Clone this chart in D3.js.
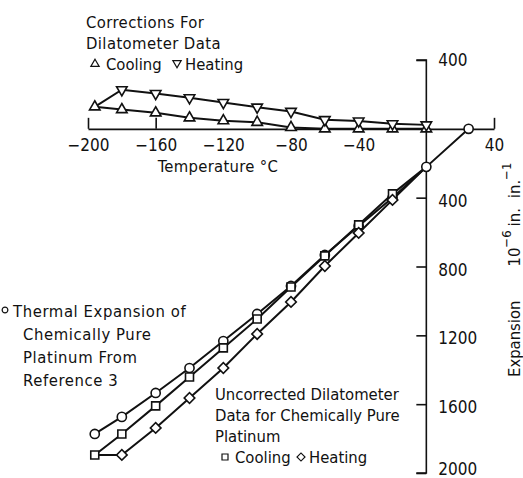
<!DOCTYPE html>
<html>
<head>
<meta charset="utf-8">
<script src="https://cdn.jsdelivr.net/npm/d3@7"></script>
<style>
  body { margin: 0; background: #fff; }
  svg text { font-family: "DejaVu Sans Condensed", "DejaVu Sans", sans-serif; font-size: 16.5px; fill: #111; }
  svg .tick text { font-size: 17px; }
</style>
</head>
<body>
<svg id="chart" width="523" height="478"></svg>
<script>
// temperatures, deg C (first point is liquid nitrogen)
const temps = [-196, -180, -160, -140, -120, -100, -80, -60, -40, -20, 0];
const refTemps = [-196, -180, -160, -140, -120, -100, -80, -60, -40, -20, 0, 25];

// corrections for dilatometer data, 10^-6 in/in (plotted upward)
const corrCooling = [128, 112, 93, 64, 47, 38, 8, 0, 0, 0, 0];
const corrHeating = [128, 227, 205, 180, 153, 126, 101, 53, 45, 29, 23];

// expansion, 10^-6 in/in (plotted downward)
const refExpansion = [1773, 1674, 1535, 1390, 1233, 1076, 913, 733, 564, 401, 221, 0];
const uncorrCooling = [1895, 1773, 1610, 1442, 1273, 1105, 919, 738, 558, 378, 221];
const uncorrHeating = [1895, 1895, 1738, 1564, 1390, 1192, 1006, 797, 605, 413, 221];

const xTicks = [-200, -160, 40];
const xLabels = [-200, -160, -120, -80, -40, 40];
const yTicks = [-400, 400, 800, 1200, 1600, 2000];

const svg = d3.select("#chart");
const x = d3.scaleLinear().domain([-200, 40]).range([88, 494]);
const y = d3.scaleLinear().domain([-400, 2000]).range([60, 473]);
const x0 = x(0), y0 = y(0);

const fmt = d => (d < 0 ? "\u2212" : "") + Math.abs(d);

// horizontal axis, ticks pointing up
svg.append("g")
    .attr("transform", `translate(0,${y0})`)
    .call(d3.axisTop(x).tickValues(xTicks).tickSize(11).tickSizeOuter(0).tickFormat(""))
    .call(g => g.selectAll("path,line").attr("stroke", "#111").attr("stroke-width", 1.6));

svg.append("g")
    .attr("transform", `translate(0,${y0})`)
    .call(d3.axisBottom(x).tickValues(xLabels).tickSize(0).tickPadding(10).tickFormat(fmt))
    .call(g => g.select(".domain").remove())
    .call(g => g.selectAll("text").attr("font-family", null).attr("font-size", null));

// vertical axis, ticks to the left, labels on the right
svg.append("g")
    .attr("transform", `translate(${x0},0)`)
    .call(d3.axisLeft(y).tickValues(yTicks).tickSize(10).tickSizeOuter(0).tickFormat(""))
    .call(g => g.select(".domain").attr("d", `M-10,${y(-400)}H0V${y(2000)}H-10`))
    .call(g => g.selectAll("path,line").attr("stroke", "#111").attr("stroke-width", 1.6).attr("fill", "none"));

svg.append("g")
    .attr("transform", `translate(${x0},0)`)
    .call(d3.axisRight(y).tickValues(yTicks).tickSize(0).tickPadding(12).tickFormat(d => Math.abs(d)))
    .call(g => g.select(".domain").remove())
    .call(g => g.selectAll("text").attr("font-family", null).attr("font-size", null)
        .attr("dy", d => d === 2000 ? "0.1em" : d > 0 ? "0.5em" : "0.32em"));

const sym = {
  up: d3.symbol().type(d3.symbolTriangle).size(48),
  circle: d3.symbol().type(d3.symbolCircle).size(66),
  square: d3.symbol().type(d3.symbolSquare).size(64),
  diamond: d3.symbol().type(d3.symbolSquare).size(56)
};

const series = [
  {t: temps, v: corrCooling.map(d => -d), shape: "up", rot: 0, skip: []},
  {t: temps, v: corrHeating.map(d => -d), shape: "up", rot: 180, skip: [0]},
  {t: refTemps, v: refExpansion, shape: "circle", rot: 0, skip: []},
  {t: temps, v: uncorrCooling, shape: "square", rot: 0, skip: [10]},
  {t: temps, v: uncorrHeating, shape: "diamond", rot: 45, skip: [0, 10]}
];

const line = d3.line().x(d => x(d[0])).y(d => y(d[1]));

series.forEach(s => {
  const pts = s.t.map((t, i) => [t, s.v[i]]);
  svg.append("path")
      .datum(pts)
      .attr("fill", "none")
      .attr("stroke", "#111")
      .attr("stroke-width", 2)
      .attr("d", line);
});

series.forEach(s => {
  const pts = s.t.map((t, i) => [t, s.v[i]]).filter((d, i) => !s.skip.includes(i));
  svg.append("g").selectAll("path")
      .data(pts)
      .join("path")
      .attr("d", sym[s.shape])
      .attr("transform", d => `translate(${x(d[0])},${y(d[1])}) rotate(${s.rot})`)
      .attr("fill", "#fff")
      .attr("stroke", "#111")
      .attr("stroke-width", 1.6);
});

// annotations
function block(x0, y0, lines, gap, ls) {
  const t = svg.append("text").attr("letter-spacing", ls);
  lines.forEach((s, i) => t.append("tspan").attr("x", x0).attr("y", y0 + i * gap).text(s));
  return t;
}
function key(shape, rot, cx, cy, size) {
  svg.append("path")
      .attr("d", d3.symbol().type(shape === "circle" ? d3.symbolCircle : shape === "up" ? d3.symbolTriangle : d3.symbolSquare).size(size))
      .attr("transform", `translate(${cx},${cy}) rotate(${rot})`)
      .attr("fill", "#fff").attr("stroke", "#111").attr("stroke-width", 1.2);
}

block(86, 28, ["Corrections For", "Dilatometer Data"], 21, 0.4);
key("up", 0, 95, 64, 30);
svg.append("text").attr("x", 106).attr("y", 70).text("Cooling");
key("up", 180, 177, 63, 30);
svg.append("text").attr("x", 185).attr("y", 70).text("Heating");

svg.append("text").attr("x", 218).attr("y", 172).attr("text-anchor", "middle").attr("letter-spacing", 0.3).text("Temperature \u00b0C");

key("circle", 0, 5, 310, 26);
svg.append("text").attr("x", 13).attr("y", 317).attr("letter-spacing", 0.6).text("Thermal Expansion of");
block(23, 340, ["Chemically Pure", "Platinum From", "Reference 3"], 23, 0.6);

block(215, 400, ["Uncorrected Dilatometer", "Data for Chemically Pure", "Platinum"], 21, 0);
key("square", 0, 225, 457, 36);
svg.append("text").attr("x", 235).attr("y", 463).text("Cooling");
key("square", 45, 301, 457, 32);
svg.append("text").attr("x", 309).attr("y", 463).text("Heating");

// y axis title, rotated
const yt = svg.append("text").attr("transform", "translate(520,377) rotate(-90)");
yt.append("tspan").text("Expansion");
yt.append("tspan").attr("dx", 34).text("10");
yt.append("tspan").attr("dy", -9).attr("font-size", 13).text("\u22126");
yt.append("tspan").attr("dy", 9).attr("dx", 4).text("in.");
yt.append("tspan").attr("dx", 10).text("in.");
yt.append("tspan").attr("dy", -9).attr("font-size", 13).text("\u22121");
</script>
</body>
</html>
